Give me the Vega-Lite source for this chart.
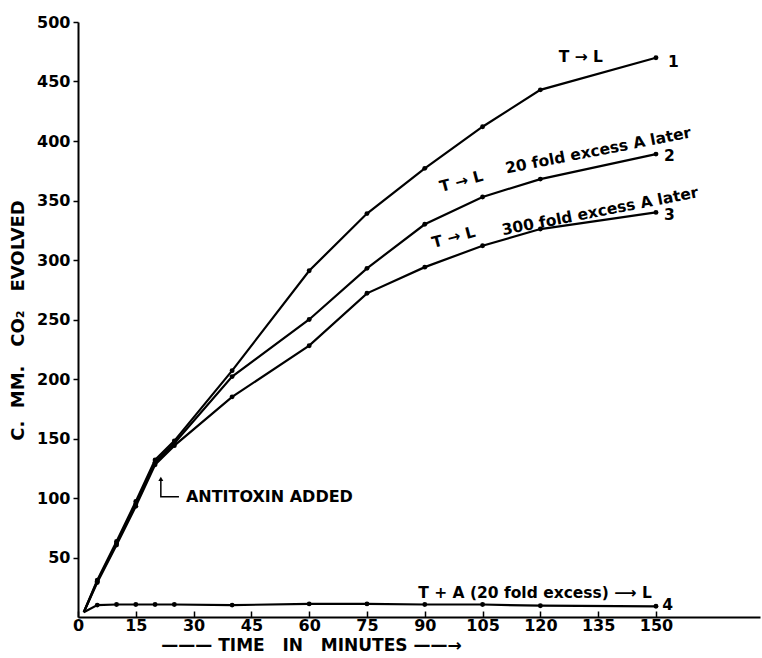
{
  "$schema": "https://vega.github.io/schema/vega-lite/v6.json",
  "width": 682,
  "height": 595,
  "autosize": {"type": "none"},
  "padding": {"left": 78, "top": 22, "right": 2, "bottom": 41},
  "background": "white",
  "config": {
    "view": {"stroke": null},
    "font": "DejaVu Sans",
    "axis": {"grid": false, "domainColor": "black", "tickColor": "black", "domainWidth": 2, "tickWidth": 1.5, "labelColor": "black", "titleColor": "black", "labelFont": "DejaVu Sans", "titleFont": "DejaVu Sans", "labelFontWeight": "bold", "titleFontWeight": "bold"}
  },
  "datasets": {
    "curves": [
      {"s": "1", "t": 1.5, "v": 4}, {"s": "1", "t": 5, "v": 31}, {"s": "1", "t": 10, "v": 63.5}, {"s": "1", "t": 15, "v": 97}, {"s": "1", "t": 20, "v": 132}, {"s": "1", "t": 25, "v": 148}, {"s": "1", "t": 40, "v": 207}, {"s": "1", "t": 60, "v": 291}, {"s": "1", "t": 75, "v": 339}, {"s": "1", "t": 90, "v": 377}, {"s": "1", "t": 105, "v": 412}, {"s": "1", "t": 120, "v": 443}, {"s": "1", "t": 150, "v": 470},
      {"s": "2", "t": 1.5, "v": 4}, {"s": "2", "t": 5, "v": 30}, {"s": "2", "t": 10, "v": 62}, {"s": "2", "t": 15, "v": 95}, {"s": "2", "t": 20, "v": 130}, {"s": "2", "t": 25, "v": 146}, {"s": "2", "t": 40, "v": 202}, {"s": "2", "t": 60, "v": 250}, {"s": "2", "t": 75, "v": 293}, {"s": "2", "t": 90, "v": 330}, {"s": "2", "t": 105, "v": 353}, {"s": "2", "t": 120, "v": 368}, {"s": "2", "t": 150, "v": 389},
      {"s": "3", "t": 1.5, "v": 4}, {"s": "3", "t": 5, "v": 29}, {"s": "3", "t": 10, "v": 60.5}, {"s": "3", "t": 15, "v": 93}, {"s": "3", "t": 20, "v": 128}, {"s": "3", "t": 25, "v": 144}, {"s": "3", "t": 40, "v": 185}, {"s": "3", "t": 60, "v": 228}, {"s": "3", "t": 75, "v": 272}, {"s": "3", "t": 90, "v": 294}, {"s": "3", "t": 105, "v": 312}, {"s": "3", "t": 120, "v": 326}, {"s": "3", "t": 150, "v": 340},
      {"s": "4", "t": 1.5, "v": 4}, {"s": "4", "t": 5, "v": 10}, {"s": "4", "t": 10, "v": 10.5}, {"s": "4", "t": 15, "v": 10.5}, {"s": "4", "t": 20, "v": 10.5}, {"s": "4", "t": 25, "v": 10.5}, {"s": "4", "t": 40, "v": 10}, {"s": "4", "t": 60, "v": 11}, {"s": "4", "t": 75, "v": 11}, {"s": "4", "t": 90, "v": 10.5}, {"s": "4", "t": 105, "v": 10.5}, {"s": "4", "t": 120, "v": 9.5}, {"s": "4", "t": 150, "v": 9}
    ],
    "labels": [
      {"t": 130.5, "v": 471, "text": "T → L", "a": 0},
      {"t": 154.5, "v": 466, "text": "1", "a": 0},
      {"t": 153.5, "v": 387, "text": "2", "a": 0},
      {"t": 153.5, "v": 338, "text": "3", "a": 0},
      {"t": 153, "v": 10, "text": "4", "a": 0},
      {"t": 99.5, "v": 366, "text": "T → L", "a": -15},
      {"t": 135, "v": 392, "text": "20 fold excess A later", "a": -11},
      {"t": 97.5, "v": 319, "text": "T → L", "a": -15},
      {"t": 135.5, "v": 341, "text": "300 fold excess A later", "a": -11},
      {"t": 118.6, "v": 20, "text": "T + A (20 fold excess) ⟶ L", "a": 0}
    ],
    "note": [
      {"t": 28, "v": 101, "text": "ANTITOXIN ADDED"}
    ],
    "arrow": [
      {"t": 21.5, "v": 116, "o": 1}, {"t": 21.5, "v": 101, "o": 2}, {"t": 26.2, "v": 101, "o": 3}
    ]
  },
  "layer": [
    {
      "mark": {"type": "rule", "color": "black", "strokeWidth": 2},
      "encoding": {"y": {"datum": 500, "type": "quantitative", "scale": {"domain": [0, 500]}}}
    },
    {
      "data": {"name": "curves"},
      "mark": {"type": "line", "color": "black", "strokeWidth": 2.2},
      "encoding": {
        "x": {"field": "t", "type": "quantitative", "scale": {"domain": [0, 177], "nice": false},
          "axis": {"values": [0, 15, 30, 45, 60, 75, 90, 105, 120, 135, 150], "tickSize": -6, "labelPadding": 6, "labelFontSize": 16, "labelFlush": false,
            "title": "——— TIME\u00a0\u00a0 IN\u00a0\u00a0 MINUTES ——→", "titleFontSize": 17, "titleX": 233, "titleY": 28, "titleBaseline": "middle", "titleAlign": "center"}},
        "y": {"field": "v", "type": "quantitative", "scale": {"domain": [0, 500], "nice": false},
          "axis": {"values": [50, 100, 150, 200, 250, 300, 350, 400, 450, 500], "tickSize": 5, "labelPadding": 3, "labelFontSize": 16,
            "title": "C.\u00a0 MM.\u00a0\u00a0 CO₂\u00a0\u00a0 EVOLVED", "titleFontSize": 18, "titleX": -60, "titleY": 298, "titleAngle": -90, "titleAlign": "center", "titleBaseline": "middle"}},
        "detail": {"field": "s"}
      }
    },
    {
      "data": {"name": "curves"},
      "transform": [{"filter": "datum.t > 2"}],
      "mark": {"type": "point", "filled": true, "color": "black", "size": 24, "opacity": 1},
      "encoding": {
        "x": {"field": "t", "type": "quantitative"},
        "y": {"field": "v", "type": "quantitative"}
      }
    },
    {
      "data": {"name": "arrow"},
      "mark": {"type": "line", "color": "black", "strokeWidth": 1.5},
      "encoding": {
        "x": {"field": "t", "type": "quantitative"},
        "y": {"field": "v", "type": "quantitative"},
        "order": {"field": "o"}
      }
    },
    {
      "data": {"name": "arrow"},
      "transform": [{"filter": "datum.o == 1"}],
      "mark": {"type": "point", "shape": "triangle-up", "filled": true, "color": "black", "size": 25, "opacity": 1},
      "encoding": {
        "x": {"field": "t", "type": "quantitative"},
        "y": {"field": "v", "type": "quantitative"}
      }
    },
    {
      "data": {"name": "labels"},
      "mark": {"type": "text", "color": "black", "fontSize": 15.5, "fontWeight": "bold", "baseline": "middle", "align": "center", "font": "DejaVu Sans"},
      "encoding": {
        "x": {"field": "t", "type": "quantitative"},
        "y": {"field": "v", "type": "quantitative"},
        "text": {"field": "text"},
        "angle": {"field": "a", "type": "quantitative", "scale": null}
      }
    },
    {
      "data": {"name": "note"},
      "mark": {"type": "text", "color": "black", "fontSize": 16, "fontWeight": "bold", "baseline": "middle", "align": "left", "font": "DejaVu Sans"},
      "encoding": {
        "x": {"field": "t", "type": "quantitative"},
        "y": {"field": "v", "type": "quantitative"},
        "text": {"field": "text"}
      }
    }
  ]
}
